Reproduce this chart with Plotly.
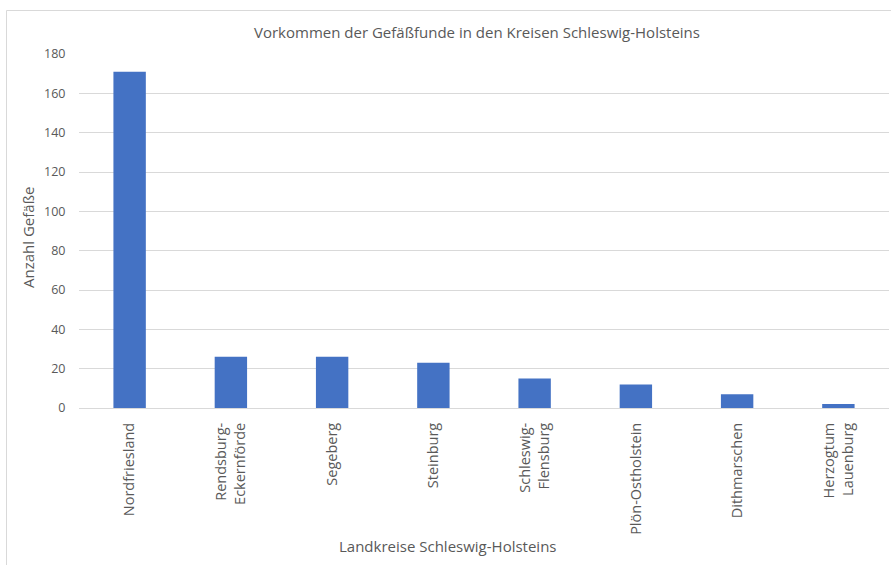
import plotly.graph_objects as go

kreise = [
    "Nordfriesland",
    "Rendsburg-<br>Eckernförde",
    "Segeberg",
    "Steinburg",
    "Schleswig-<br>Flensburg",
    "Plön-Ostholstein",
    "Dithmarschen",
    "Herzogtum<br>Lauenburg",
]
anzahl = [171, 26, 26, 23, 15, 12, 7, 2]
y_ticks = [0, 20, 40, 60, 80, 100, 120, 140, 160, 180]

W, H = 891, 565
ML, MR, MT, MB = 79, 2, 54, 157
pw, ph = W - ML - MR, H - MT - MB

font = "Open Sans, Noto Sans, sans-serif"
grey = "#595959"

fig = go.Figure(
    go.Bar(
        x=kreise,
        y=anzahl,
        marker=dict(color="#4472C4", line=dict(width=0)),
    )
)

fig.update_layout(
    width=W,
    height=H,
    margin=dict(l=ML, r=MR, t=MT, b=MB),
    paper_bgcolor="white",
    plot_bgcolor="white",
    bargap=0.68,
    showlegend=False,
    font=dict(family=font, color=grey, size=12),
    title=dict(
        text="Vorkommen der Gefäßfunde in den Kreisen Schleswig-Holsteins",
        x=477 / W,
        xanchor="center",
        y=1 - 33 / H,
        yanchor="middle",
        font=dict(family=font, size=15, color=grey),
    ),
    xaxis=dict(
        tickangle=-90,
        showgrid=False,
        showline=False,
        ticks="outside",
        ticklen=8,
        tickcolor="rgba(0,0,0,0)",
        tickfont=dict(size=14.5, color=grey),
    ),
    yaxis=dict(
        range=[0, 180],
        tickvals=y_ticks,
        showgrid=True,
        gridcolor="#D9D9D9",
        gridwidth=1,
        zeroline=True,
        zerolinecolor="#D9D9D9",
        zerolinewidth=1,
        ticks="outside",
        ticklen=10,
        tickcolor="rgba(0,0,0,0)",
        tickfont=dict(size=12.5, color=grey),
    ),
)

# axis titles
fig.add_annotation(
    text="Landkreise Schleswig-Holsteins",
    xref="paper",
    yref="paper",
    x=(448 - ML) / pw,
    y=(H - 546 - MB) / ph,
    xanchor="center",
    yanchor="middle",
    showarrow=False,
    font=dict(family=font, size=15, color=grey),
)
fig.add_annotation(
    text="Anzahl Gefäße",
    xref="paper",
    yref="paper",
    x=(28 - ML) / pw,
    y=(H - 238 - MB) / ph,
    xanchor="center",
    yanchor="middle",
    textangle=-90,
    showarrow=False,
    font=dict(family=font, size=15, color=grey),
)

# light chart frame around the whole figure
fig.add_shape(
    type="rect",
    xref="paper",
    yref="paper",
    x0=(6.5 - ML) / pw,
    x1=(W + 5 - ML) / pw,
    y0=(H - (H + 5) - MB) / ph,
    y1=(H - 10.5 - MB) / ph,
    line=dict(color="#D9D9D9", width=1),
    fillcolor="rgba(0,0,0,0)",
    layer="below",
)

fig.write_html("out.html")
